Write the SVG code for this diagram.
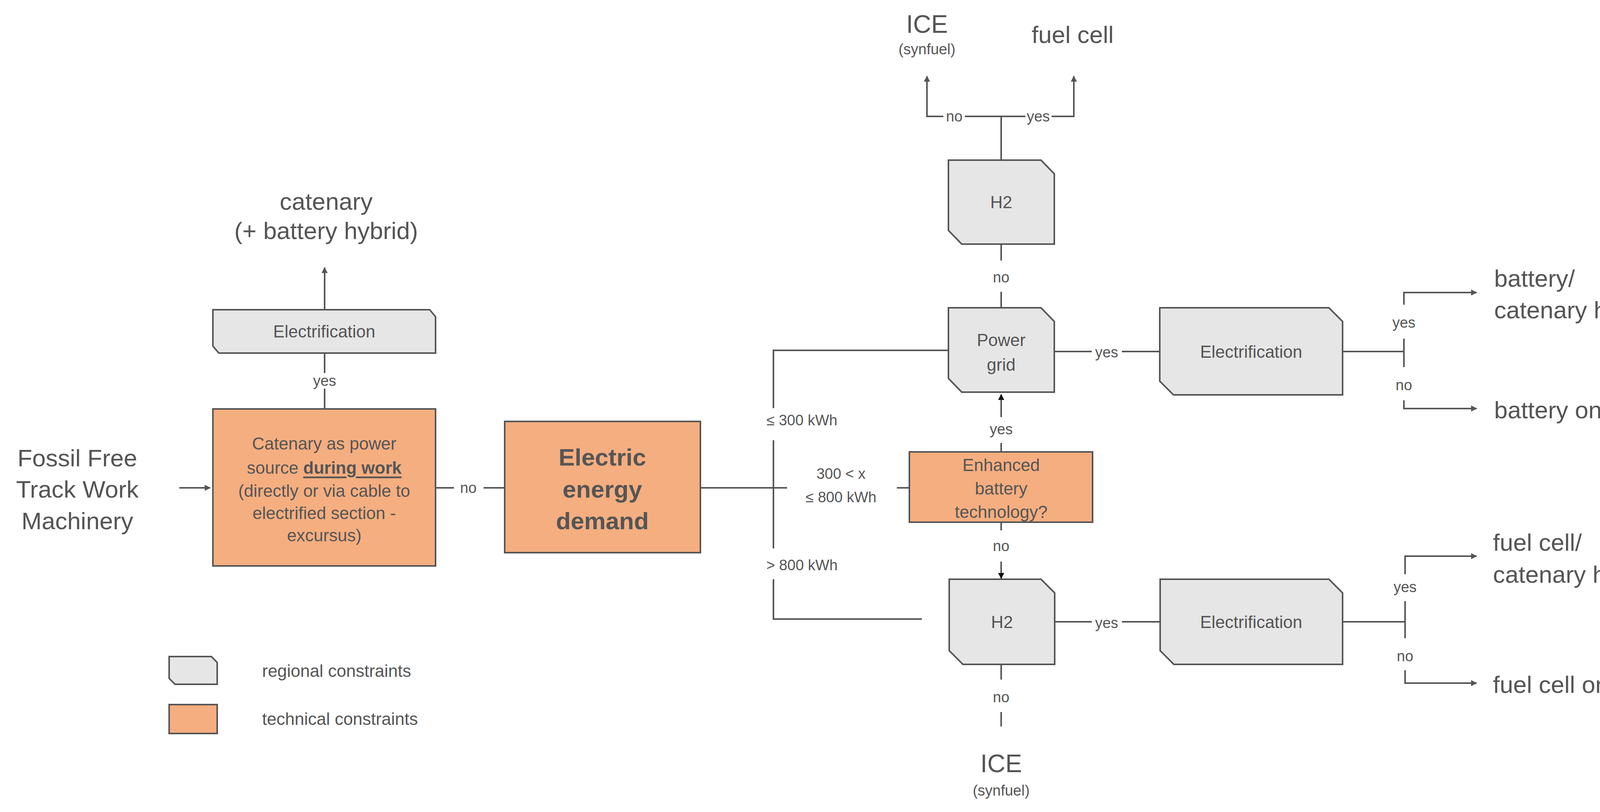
<svg xmlns="http://www.w3.org/2000/svg" width="4293" height="2079" viewBox="0 0 4293 2079">
<style>
text{font-family:"Liberation Sans",Arial,sans-serif;fill:#555;text-anchor:middle;dominant-baseline:central}
.g{fill:#e6e6e6;stroke:#555;stroke-width:4}
.o{fill:#f4ae80;stroke:#555;stroke-width:4}
.c line,.c polyline{stroke:#555;stroke-width:4;fill:none}
.lb{font-size:38px}
.big{font-size:62px}
.box{font-size:44px}
.st{text-anchor:start}
</style>
<defs>
<marker id="a" viewBox="0 0 10 10" refX="9" refY="5" markerWidth="4" markerHeight="4" orient="auto"><path d="M0,0L10,5L0,10z" fill="#555"/></marker>
<marker id="k" viewBox="0 0 10 10" refX="9" refY="5" markerWidth="4" markerHeight="4" orient="auto"><path d="M0,0L10,5L0,10z" fill="#111"/></marker>
</defs>
<rect width="4293" height="2079" fill="#fff"/>
<g class="c" id="connectors">
<line x1="459" y1="1249" x2="538" y2="1249" marker-end="url(#a)"/>
<line x1="831" y1="1047" x2="831" y2="995"/><line x1="831" y1="955" x2="831" y2="904"/>
<line x1="831" y1="793" x2="831" y2="685" marker-end="url(#a)"/>
<line x1="1115" y1="1249" x2="1162" y2="1249"/><line x1="1238" y1="1249" x2="1292" y2="1249"/>
<line x1="1793" y1="1249" x2="2015" y2="1249"/>
<polyline points="2428,897 1980,897 1980,1045"/>
<line x1="1980" y1="1127" x2="1980" y2="1404"/>
<polyline points="1980,1483 1980,1585 2360,1585"/>
<line x1="2296" y1="1249" x2="2328" y2="1249"/>
<line x1="2563" y1="1157" x2="2563" y2="1134"/>
<line x1="2563" y1="1068" x2="2563" y2="1010" stroke="#111" marker-end="url(#k)"/>
<line x1="2563" y1="1337" x2="2563" y2="1358"/>
<line x1="2563" y1="1438" x2="2563" y2="1481" stroke="#111" marker-end="url(#k)"/>
<line x1="2563" y1="410" x2="2563" y2="298"/>
<polyline points="2415,298 2373,298 2373,195" marker-end="url(#a)"/>
<line x1="2470" y1="298" x2="2625" y2="298"/>
<polyline points="2692,298 2749,298 2749,195" marker-end="url(#a)"/>
<line x1="2563" y1="625" x2="2563" y2="667"/><line x1="2563" y1="747" x2="2563" y2="788"/>
<line x1="2699" y1="900" x2="2795" y2="900"/><line x1="2872" y1="900" x2="2969" y2="900"/>
<line x1="3437" y1="900" x2="3594" y2="900"/>
<line x1="3594" y1="867" x2="3594" y2="940"/>
<polyline points="3594,780 3594,749 3780,749" marker-end="url(#a)"/>
<polyline points="3594,1025 3594,1046 3780,1046" marker-end="url(#a)"/>
<line x1="2563" y1="1701" x2="2563" y2="1740"/><line x1="2563" y1="1823" x2="2563" y2="1860"/>
<line x1="2700" y1="1592" x2="2795" y2="1592"/><line x1="2872" y1="1592" x2="2970" y2="1592"/>
<line x1="3437" y1="1592" x2="3597" y2="1592"/>
<line x1="3597" y1="1539" x2="3597" y2="1634"/>
<polyline points="3597,1470 3597,1424 3780,1424" marker-end="url(#a)"/>
<polyline points="3597,1716 3597,1749 3780,1749" marker-end="url(#a)"/>
</g>
<g id="labels">
<text class="lb" x="831" y="975">yes</text>
<text class="lb" x="1199" y="1249">no</text>
<text class="lb" x="2053" y="1076">≤ 300 kWh</text>
<text class="lb" x="2153" y="1213">300 &lt; x</text>
<text class="lb" x="2153" y="1273">≤ 800 kWh</text>
<text class="lb" x="2053" y="1447">&gt; 800 kWh</text>
<text class="lb" x="2563" y="1099">yes</text>
<text class="lb" x="2563" y="1398">no</text>
<text class="lb" x="2443" y="298">no</text>
<text class="lb" x="2658" y="298">yes</text>
<text class="lb" x="2563" y="710">no</text>
<text class="lb" x="2833" y="902">yes</text>
<text class="lb" x="3594" y="826">yes</text>
<text class="lb" x="3594" y="986">no</text>
<text class="lb" x="2833" y="1595">yes</text>
<text class="lb" x="3597" y="1503">yes</text>
<text class="lb" x="3597" y="1680">no</text>
<text class="lb" x="2563" y="1785">no</text>
</g>
<g id="start"><text class="big" x="198" y="1172">Fossil Free</text><text class="big" x="198" y="1252">Track Work</text><text class="big" x="198" y="1333">Machinery</text></g>
<g id="out-catenary"><text class="big" x="835" y="515">catenary</text><text class="big" x="835" y="590">(+ battery hybrid)</text></g>
<g id="elec1"><path class="g" d="M545,793H1100L1115,811V904H560L545,886Z"/><text class="box" x="830" y="848">Electrification</text></g>
<g id="catenary-box"><rect class="o" x="545" y="1047" width="570" height="402"/>
<text class="box" x="830" y="1135">Catenary as power</text>
<text class="box" x="830" y="1197">source <tspan font-weight="bold" text-decoration="underline">during work</tspan></text>
<text class="box" x="830" y="1256">(directly or via cable to</text>
<text class="box" x="830" y="1313">electrified section -</text>
<text class="box" x="830" y="1370">excursus)</text></g>
<g id="demand"><rect class="o" x="1292" y="1079" width="501" height="336"/>
<text x="1542" y="1170" font-size="62" font-weight="bold">Electric</text>
<text x="1542" y="1252" font-size="62" font-weight="bold">energy</text>
<text x="1542" y="1333" font-size="62" font-weight="bold">demand</text></g>
<g id="enhanced"><rect class="o" x="2328" y="1157" width="469" height="180"/>
<text class="box" x="2563" y="1190">Enhanced</text><text class="box" x="2563" y="1250">battery</text><text class="box" x="2563" y="1310">technology?</text></g>
<g id="out-ice-top"><text x="2373" y="62" font-size="64">ICE</text><text x="2373" y="126" font-size="38">(synfuel)</text></g>
<g id="out-fc-top"><text class="big" x="2746" y="88">fuel cell</text></g>
<g id="h2-top"><path class="g" d="M2428,410H2665L2699,445V625H2462L2428,590Z"/><text class="box" x="2563" y="517">H2</text></g>
<g id="powergrid"><path class="g" d="M2428,788H2665L2699,823V1004H2462L2428,969Z"/><text class="box" x="2563" y="870">Power</text><text class="box" x="2563" y="933">grid</text></g>
<g id="elec2"><path class="g" d="M2969,788H3402L3437,823V1011H3004L2969,976Z"/><text class="box" x="3203" y="900">Electrification</text></g>
<g id="out-bch"><text class="big st" x="3825" y="712">battery/</text><text class="big st" x="3825" y="793">catenary hybrid</text></g>
<g id="out-bo"><text class="big st" x="3825" y="1049">battery only</text></g>
<g id="h2-bottom"><path class="g" d="M2430,1483H2665L2700,1518V1701H2465L2430,1666Z"/><text class="box" x="2565" y="1592">H2</text></g>
<g id="elec3"><path class="g" d="M2970,1483H3402L3437,1518V1701H3005L2970,1666Z"/><text class="box" x="3203" y="1592">Electrification</text></g>
<g id="out-fch"><text class="big st" x="3822" y="1388">fuel cell/</text><text class="big st" x="3822" y="1470">catenary hybrid</text></g>
<g id="out-fco"><text class="big st" x="3822" y="1752">fuel cell only</text></g>
<g id="out-ice-bottom"><text x="2563" y="1955" font-size="64">ICE</text><text x="2563" y="2024" font-size="38">(synfuel)</text></g>
<g id="legend">
<path class="g" d="M433,1681H541L556,1696V1752H448L433,1737Z"/><text class="box st" x="671" y="1717">regional constraints</text>
<rect class="o" x="433" y="1804" width="123" height="74"/><text class="box st" x="671" y="1840">technical constraints</text>
</g>
</svg>
